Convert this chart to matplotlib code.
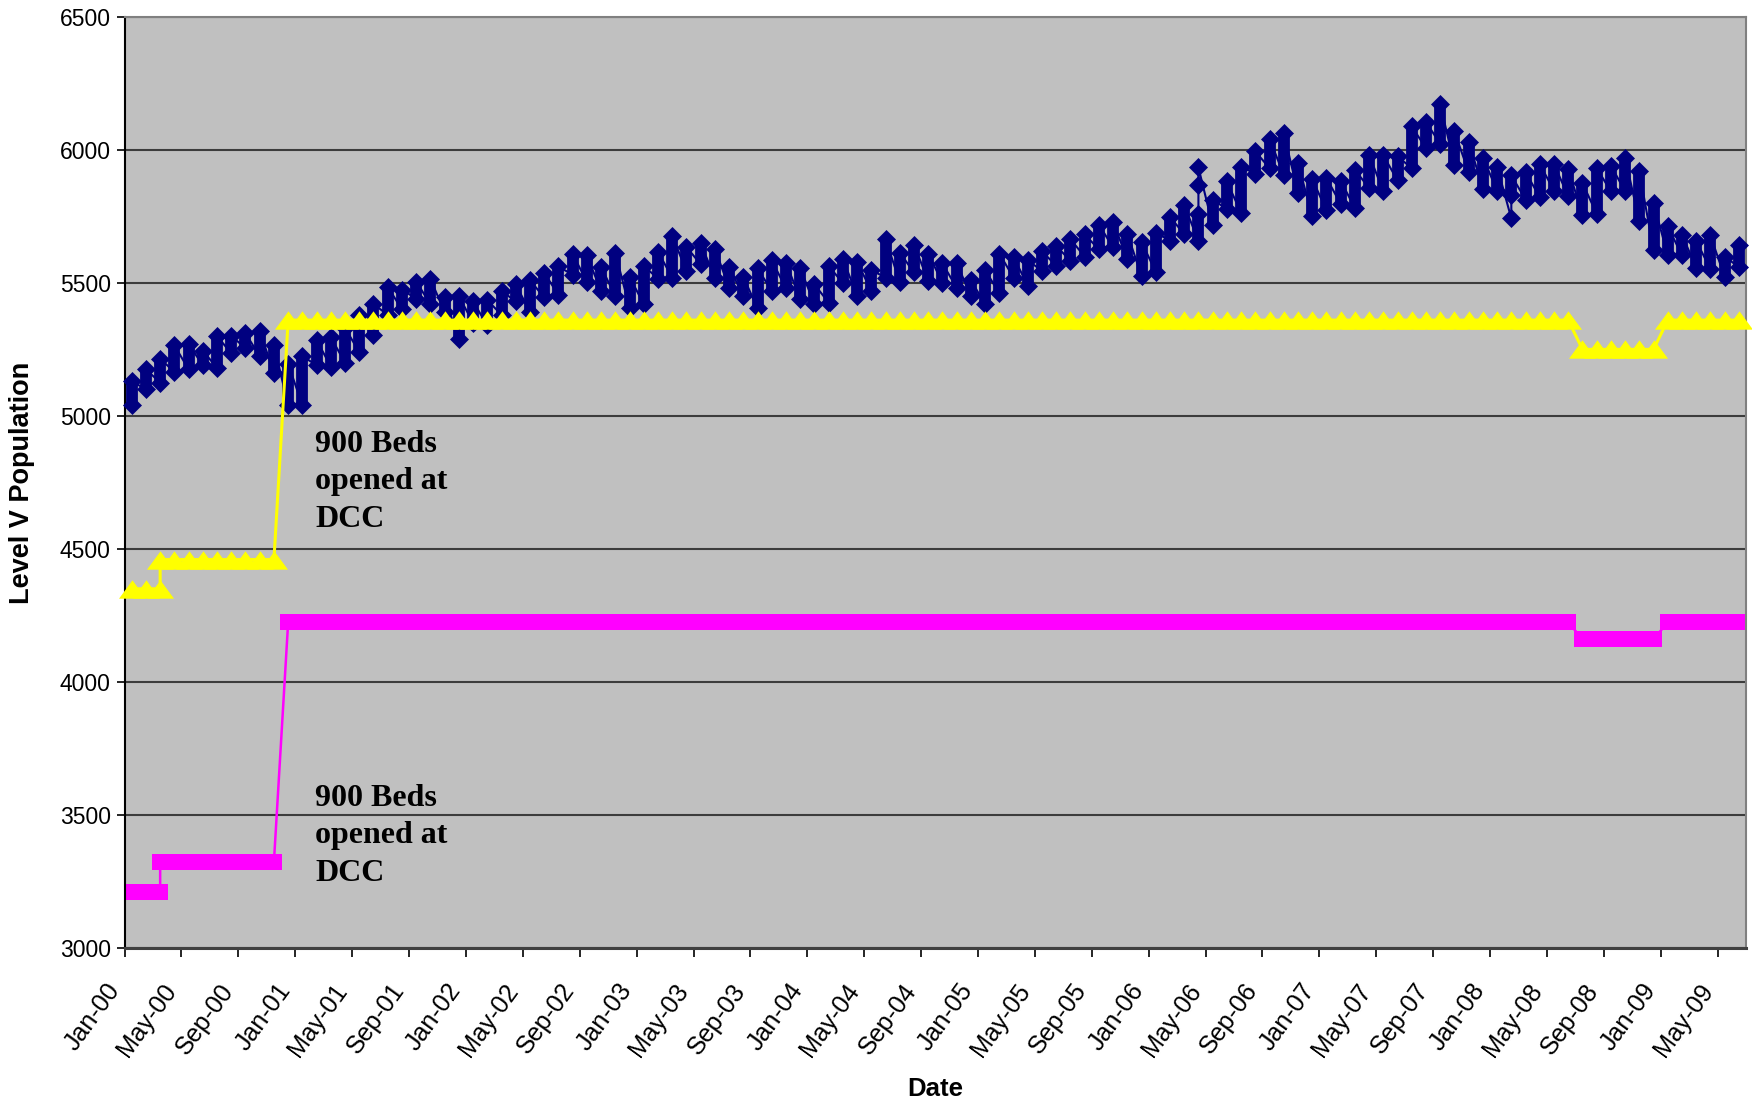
import pandas as pd
import matplotlib
matplotlib.use("Agg")
import matplotlib.pyplot as plt
from matplotlib.path import Path

plt.rcParams["font.family"] = ["Liberation Sans", "DejaVu Sans"]

# Months are counted from Jan-00 (index 0) to Jun-09 (index 113),
# Excel date axis with monthly base unit -> each point sits mid-month
n_months = 114
tick_labels = list(pd.date_range("2000-01-01", "2009-05-01", freq="4MS").strftime("%b-%y"))

# Population: lowest and highest daily count in each month
pop_lo = [5040, 5100, 5125, 5165, 5175, 5190, 5180, 5235, 5255, 5225, 5160, 5040,
          5040, 5190, 5185, 5200, 5240, 5305, 5380, 5400, 5440, 5420, 5390, 5290,
          5350, 5340, 5380, 5430, 5390, 5445, 5455, 5530, 5505, 5470, 5450, 5407,
          5420, 5516, 5520, 5545, 5570, 5520, 5482, 5451, 5404, 5470, 5479, 5439,
          5420, 5426, 5499, 5451, 5470, 5520, 5504, 5539, 5508, 5501, 5482, 5449,
          5420, 5461, 5520, 5489, 5545, 5564, 5583, 5599, 5626, 5633, 5589, 5526,
          5541, 5658, 5683, 5658, 5716, 5778, 5763, 5910, 5931, 5906, 5839, 5751,
          5772, 5797, 5781, 5856, 5844, 5885, 5931, 6006, 6023, 5944, 5916, 5854,
          5847, 5829, 5813, 5822, 5847, 5826, 5756, 5760, 5844, 5844, 5731, 5622,
          5603, 5603, 5556, 5551, 5522, 5559]
pop_hi = [5130, 5175, 5215, 5265, 5270, 5245, 5300, 5300, 5310, 5320, 5265, 5195,
          5225, 5285, 5295, 5330, 5380, 5420, 5485, 5475, 5505, 5515, 5445, 5450,
          5430, 5435, 5470, 5495, 5510, 5538, 5562, 5608, 5603, 5560, 5613, 5523,
          5564, 5617, 5677, 5635, 5648, 5629, 5560, 5523, 5554, 5585, 5576, 5556,
          5494, 5564, 5591, 5579, 5548, 5664, 5614, 5644, 5610, 5573, 5576, 5510,
          5548, 5610, 5598, 5585, 5619, 5639, 5664, 5682, 5719, 5729, 5685, 5654,
          5689, 5748, 5792, 5760, 5812, 5881, 5937, 5994, 6041, 6063, 5950, 5891,
          5894, 5884, 5925, 5981, 5979, 5975, 6088, 6104, 6171, 6069, 6031, 5971,
          5937, 5904, 5916, 5946, 5946, 5929, 5875, 5931, 5941, 5971, 5919, 5800,
          5712, 5681, 5658, 5678, 5599, 5641]
# isolated daily spikes (month index -> values)
pop_extra = {75: [5866, 5934], 97: [5742]}

# Bed capacity steps: (first month, last month, value)
capacity_steps = [(0, 2, 4350), (2, 10, 4460), (11, 101, 5360), (102, 107, 5250), (108, 113, 5360)]
# Second capacity line (magenta)
operating_steps = [(0, 2, 3210), (2, 10, 3325), (11, 101, 4225), (102, 107, 4160), (108, 113, 4225)]


def expand(steps):
    xs, ys = [], []
    for first, last, val in steps:
        for m in range(first, last + 1):
            xs.append(m + 0.5)
            ys.append(val)
    return xs, ys


pop_x, pop_y = [], []
for m in range(n_months):
    vals = sorted([pop_lo[m], pop_hi[m]] + pop_extra.get(m, []))
    pop_x += [m + 0.5] * len(vals)
    pop_y += vals

cap_x, cap_y = expand(capacity_steps)
op_x, op_y = expand(operating_steps)

fig = plt.figure(figsize=(17.52, 11.04), dpi=100)
ax = fig.add_axes([124.6 / 1752, 1 - 948 / 1104, (1746 - 124.6) / 1752, (948 - 16.8) / 1104])
ax.set_facecolor("#c0c0c0")

navy = "#000080"
ax.vlines([m + 0.5 for m in range(n_months)], pop_lo, pop_hi, color=navy, linewidth=8.5, zorder=3)
ax.plot(pop_x, pop_y, color=navy, lw=1.5, marker="D", ms=9, mfc=navy, mec=navy, mew=0.5,
        zorder=3, clip_on=False)

ax.plot(op_x, op_y, color="#ff00ff", lw=1.8, marker="s", ms=12, mew=0, zorder=2, clip_on=False)

tri = Path([(-1, -0.68), (1, -0.68), (0, 0.68), (-1, -0.68)],
           [Path.MOVETO, Path.LINETO, Path.LINETO, Path.CLOSEPOLY])
ax.plot(cap_x, cap_y, color="#ffff00", lw=2.2, marker=tri, ms=19.5, mew=0, zorder=4, clip_on=False)

# annotations
for ytop in (4947, 3617):
    ax.text(13.4, ytop, "900 Beds\nopened at\nDCC", family="Liberation Serif", fontweight="bold",
            fontsize=23, ha="left", va="top", linespacing=1.38, zorder=5)

# axes
ax.set_xlim(0, n_months)
ax.set_ylim(3000, 6500)
ax.set_yticks(range(3000, 6501, 500))
ax.set_xticks(range(0, n_months, 4))
ax.set_xticklabels(tick_labels, rotation=54, ha="right", va="bottom", rotation_mode="anchor",
                   fontsize=18)
ax.tick_params(axis="y", labelsize=16.5, length=6, width=1.2, pad=4)
ax.tick_params(axis="x", length=6.5, width=1.2, pad=26)
ax.yaxis.grid(True, color="#3c3c3c", lw=1.5)
ax.set_axisbelow(True)

ax.spines["left"].set_color("black")
ax.spines["left"].set_linewidth(1.5)
ax.spines["bottom"].set_color("#404040")
ax.spines["bottom"].set_linewidth(2.2)
ax.spines["top"].set_color("#808080")
ax.spines["top"].set_linewidth(1.5)
ax.spines["right"].set_color("#808080")
ax.spines["right"].set_linewidth(1.5)

fig.text(935 / 1752, 1 - 1089 / 1104, "Date", ha="center", va="center", fontsize=18.5, fontweight="bold")
fig.text(22 / 1752, 1 - 483 / 1104, "Level V Population", ha="center", va="center", rotation=90,
         fontsize=19.5, fontweight="bold")

fig.savefig("out.png", dpi=100)
